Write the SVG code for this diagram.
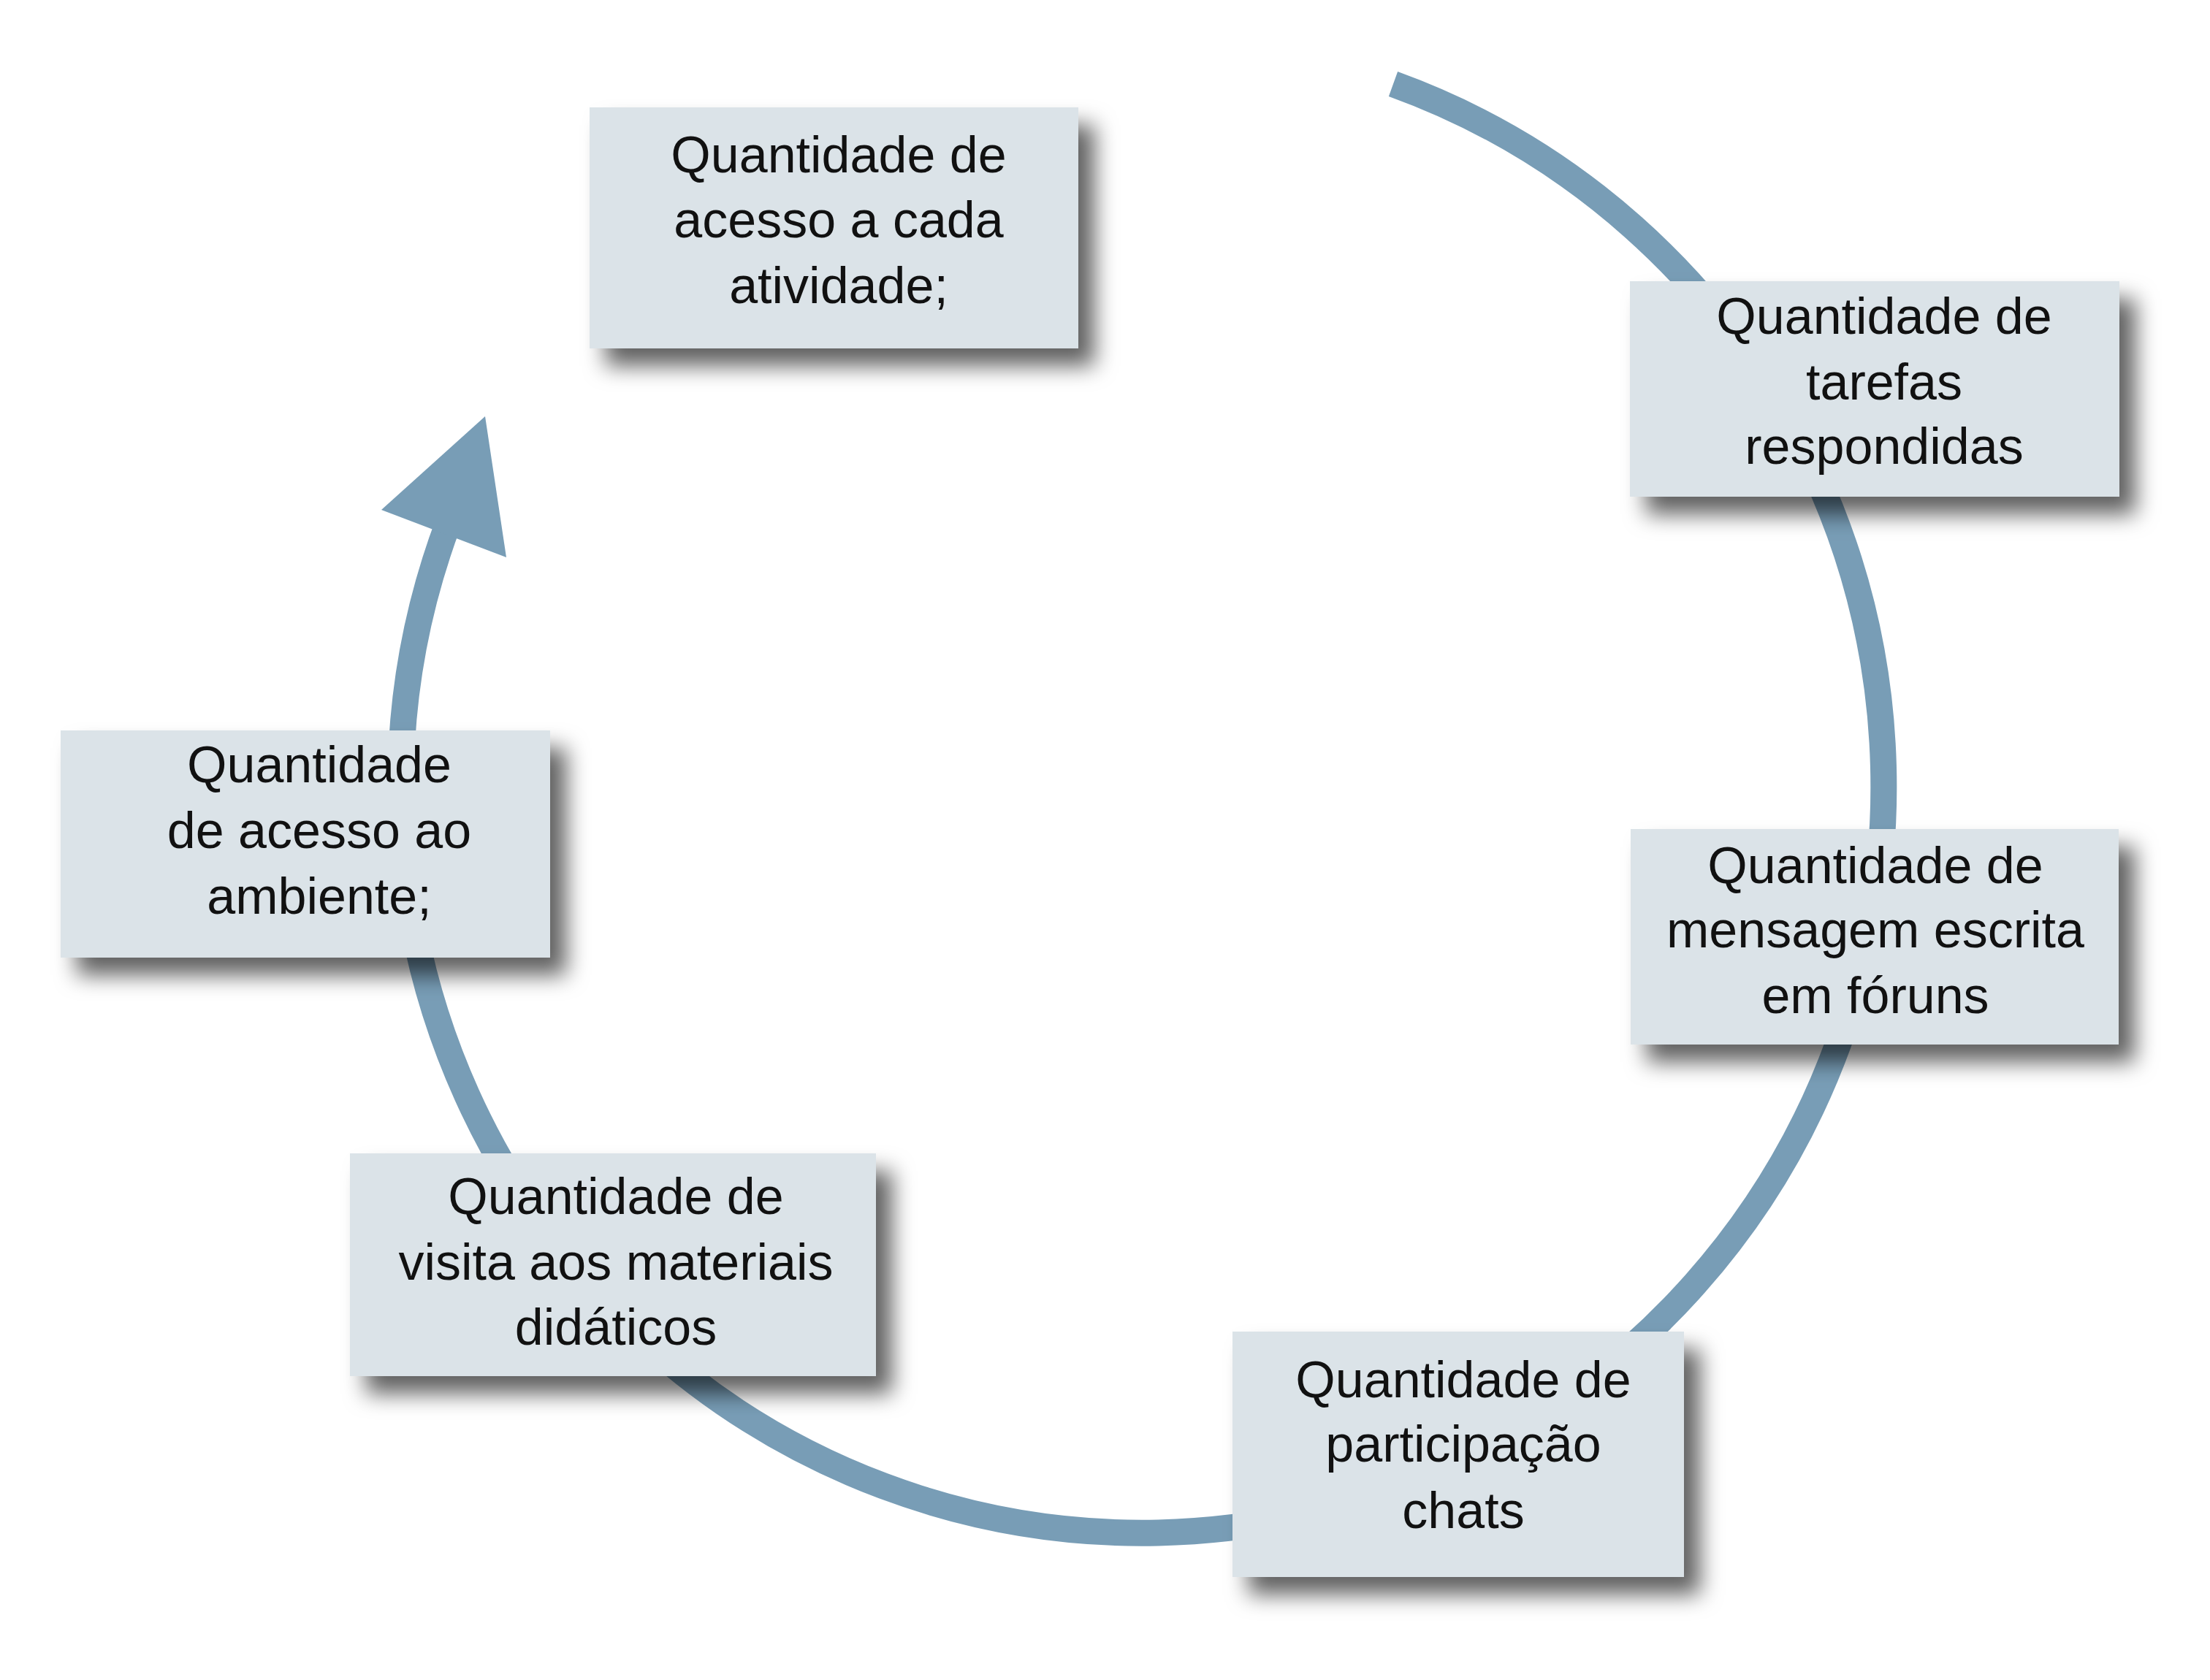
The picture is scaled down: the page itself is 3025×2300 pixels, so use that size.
<svg xmlns="http://www.w3.org/2000/svg" width="3025" height="2300" viewBox="0 0 3025 2300">
  <defs>
    <filter id="shadow" x="-15%" y="-15%" width="140%" height="150%">
      <feDropShadow dx="22" dy="24" stdDeviation="15" flood-color="#000000" flood-opacity="0.62"/>
    </filter>
  </defs>
  <style>
    .box { fill: #dbe3e8; filter: url(#shadow); }
    .lbl { font-family: "Liberation Sans", Arial, sans-serif; font-size: 70px; fill: #111111; text-anchor: middle; }
    .arc { fill: none; stroke: #789db6; stroke-width: 36; stroke-linecap: butt; }
    .head { fill: #789db6; stroke: none; }
  </style>
  <rect width="3025" height="2300" fill="#ffffff"/>
  <g id="connectors">
    <path class="arc" d="M 1907 115 A 1015 1022 0 1 1 614 715"/>
    <polygon class="head" points="664,570 522,698 693,763"/>
  </g>
  <g id="node-acesso-atividade">
    <rect class="box" x="807" y="147" width="669" height="330"/>
    <text class="lbl" x="1148" y="236">Quantidade de</text>
    <text class="lbl" x="1148" y="325">acesso a cada</text>
    <text class="lbl" x="1148" y="415">atividade;</text>
  </g>
  <g id="node-tarefas">
    <rect class="box" x="2231" y="385" width="670" height="295"/>
    <text class="lbl" x="2579" y="457">Quantidade de</text>
    <text class="lbl" x="2579" y="547">tarefas</text>
    <text class="lbl" x="2579" y="635">respondidas</text>
  </g>
  <g id="node-mensagem">
    <rect class="box" x="2232" y="1135" width="668" height="295"/>
    <text class="lbl" x="2567" y="1209">Quantidade de</text>
    <text class="lbl" x="2567" y="1297">mensagem escrita</text>
    <text class="lbl" x="2567" y="1387">em fóruns</text>
  </g>
  <g id="node-chats">
    <rect class="box" x="1687" y="1823" width="618" height="336"/>
    <text class="lbl" x="2003" y="1913">Quantidade de</text>
    <text class="lbl" x="2003" y="2001">participação</text>
    <text class="lbl" x="2003" y="2092">chats</text>
  </g>
  <g id="node-materiais">
    <rect class="box" x="479" y="1579" width="720" height="305"/>
    <text class="lbl" x="843" y="1662">Quantidade de</text>
    <text class="lbl" x="843" y="1752">visita aos materiais</text>
    <text class="lbl" x="843" y="1841">didáticos</text>
  </g>
  <g id="node-ambiente">
    <rect class="box" x="83" y="1000" width="670" height="311"/>
    <text class="lbl" x="437" y="1071">Quantidade</text>
    <text class="lbl" x="437" y="1161">de acesso ao</text>
    <text class="lbl" x="437" y="1251">ambiente;</text>
  </g>
</svg>
